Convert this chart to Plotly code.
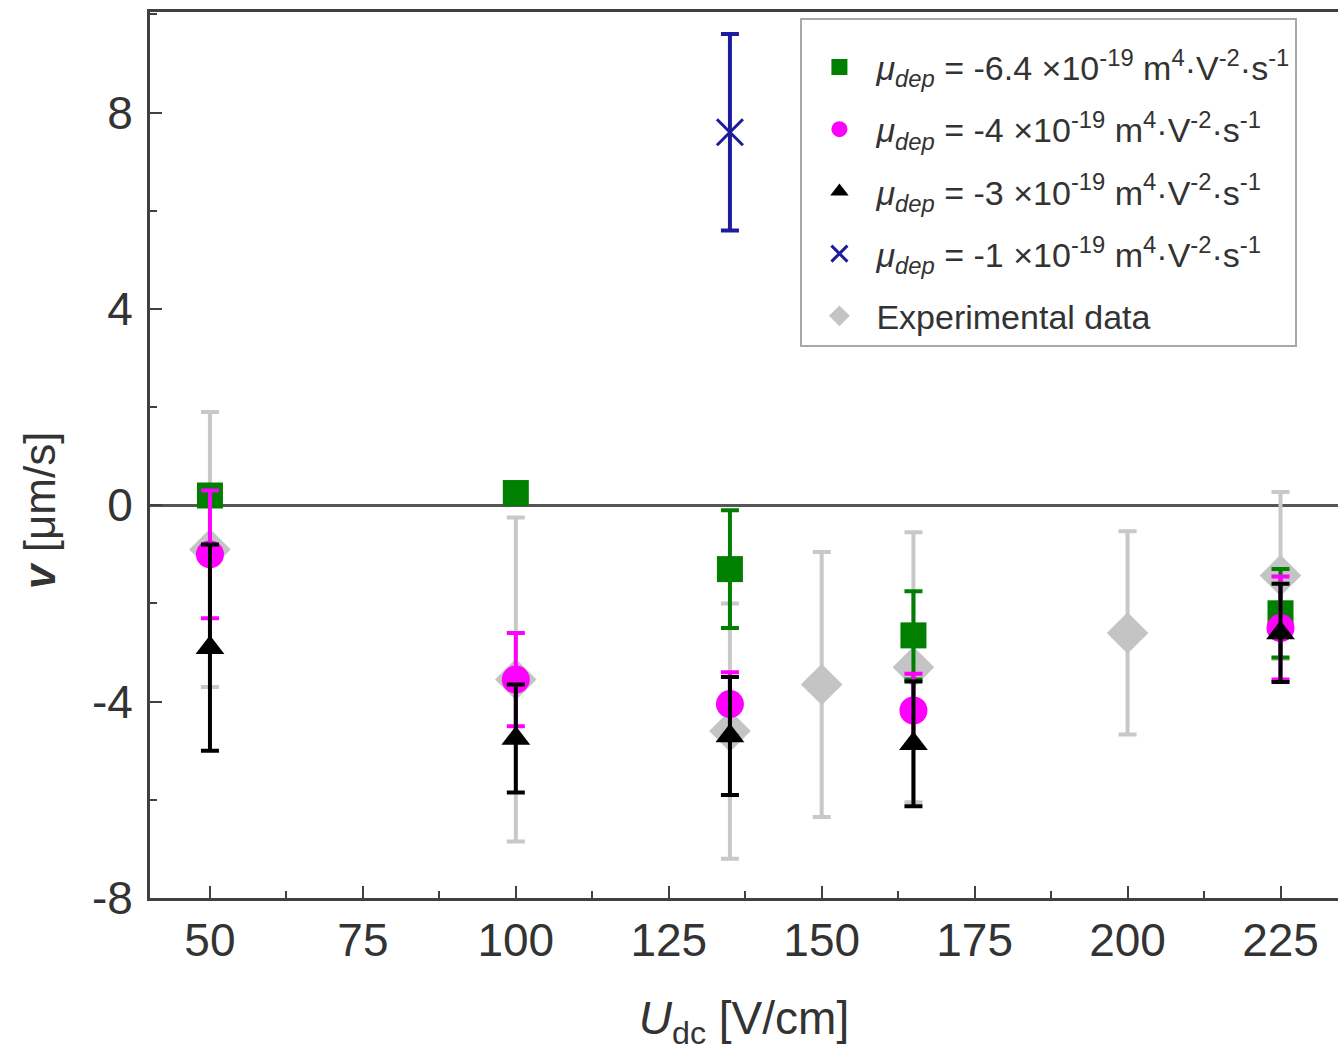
import plotly.graph_objects as go

# ---- data ----
x_green = [50, 100, 135, 165, 225]
y_green = [0.2, 0.25, -1.3, -2.65, -2.2]
e_green = [0.1, 0.1, 1.2, 0.9, 0.9]

x_mag = [50, 100, 135, 165, 225]
y_mag = [-1.0, -3.55, -4.05, -4.18, -2.5]
e_mag = [1.3, 0.95, 0.65, 0.75, 1.05]

x_blk = [50, 100, 135, 165, 225]
y_blk = [-2.9, -4.75, -4.7, -4.86, -2.6]
e_blk = [2.1, 1.1, 1.2, 1.27, 1.0]

x_blue = [135]
y_blue = [7.6]
e_blue = [2.0]

x_exp = [50, 100, 135, 150, 165, 200, 225]
y_exp = [-0.9, -3.55, -4.6, -3.65, -3.3, -2.6, -1.43]
e_exp = [2.8, 3.3, 2.6, 2.7, 2.75, 2.07, 1.7]

x_ticks = [50, 75, 100, 125, 150, 175, 200, 225]
y_ticks = [-8, -4, 0, 4, 8]
y_ticktext = ["-8", "-4", "0", "4", "8"]

names = [
    "<i>μ</i><sub><i>dep</i></sub> = -6.4 ×10<sup>-19</sup> m<sup>4</sup>·V<sup>-2</sup>·s<sup>-1</sup>",
    "<i>μ</i><sub><i>dep</i></sub> = -4 ×10<sup>-19</sup> m<sup>4</sup>·V<sup>-2</sup>·s<sup>-1</sup>",
    "<i>μ</i><sub><i>dep</i></sub> = -3 ×10<sup>-19</sup> m<sup>4</sup>·V<sup>-2</sup>·s<sup>-1</sup>",
    "<i>μ</i><sub><i>dep</i></sub> = -1 ×10<sup>-19</sup> m<sup>4</sup>·V<sup>-2</sup>·s<sup>-1</sup>",
    "Experimental data",
]

FONT = "Liberation Sans, Arial, sans-serif"
TXT = "#333333"

fig = go.Figure()

def eb(arr, color):
    return dict(type="data", array=arr, visible=True, color=color, thickness=4, width=9)

fig.add_trace(go.Scatter(x=x_exp, y=y_exp, mode="markers", name=names[4], legendrank=5, legendgroup="e",
                         marker=dict(symbol="diamond", size=32, color="#c4c4c4"),
                         error_y=eb(e_exp, "#c8c8c8")))
fig.add_trace(go.Scatter(x=x_green, y=y_green, mode="markers", name=names[0], legendrank=1, legendgroup="g",
                         marker=dict(symbol="square", size=26, color="#007f00"),
                         error_y=eb(e_green, "#007f00")))
fig.add_trace(go.Scatter(x=x_mag, y=y_mag, mode="markers", name=names[1], legendrank=2, legendgroup="m",
                         marker=dict(symbol="circle", size=28, color="#ff00ff"),
                         error_y=eb(e_mag, "#ff00ff")))
fig.add_trace(go.Scatter(x=x_blk, y=y_blk, mode="markers", name=names[2], legendrank=3, legendgroup="k",
                         marker=dict(symbol="triangle-up", size=25, color="#000000"),
                         error_y=eb(e_blk, "#000000")))
fig.add_trace(go.Scatter(x=x_blue, y=y_blue, mode="markers", name=names[3], legendrank=4, legendgroup="b",
                         marker=dict(symbol="x-thin", size=26, color="#1c1c9c",
                                     line=dict(width=3, color="#1c1c9c")),
                         error_y=eb(e_blue, "#1c1c9c")))

fig.update_layout(
    width=1338, height=1051,
    margin=dict(l=150, r=0, t=12, b=153),
    paper_bgcolor="white", plot_bgcolor="white",
    font=dict(family=FONT, color=TXT, size=46),
    showlegend=True,
    legend=dict(
        x=0.5475, y=0.993, xanchor="left", yanchor="top",
        bgcolor="white", bordercolor="#a8a8a8", borderwidth=2,
        font=dict(size=34, color=TXT, family=FONT),
        title=dict(text=" ", font=dict(size=14)),
        tracegroupgap=15, itemwidth=64, itemsizing="trace",
    ),
    xaxis=dict(
        range=[40.2, 234.4], showgrid=False, zeroline=False,
        showline=True, linecolor="#404040", linewidth=3, mirror=True,
        ticks="inside", ticklen=12, tickwidth=2, tickcolor="#404040",
        tickmode="array", tickvals=x_ticks,
        minor=dict(ticks="inside", ticklen=7, tickwidth=2, tickcolor="#404040", dtick=12.5, tick0=37.5),
        tickfont=dict(size=46, color=TXT),
        title=dict(text="<i>U</i><sub>dc</sub> [V/cm]", font=dict(size=46, color=TXT), standoff=38),
    ),
    yaxis=dict(
        range=[-8, 10.05], showgrid=False,
        zeroline=True, zerolinecolor="#555555", zerolinewidth=3,
        showline=True, linecolor="#404040", linewidth=3, mirror=False,
        ticks="inside", ticklen=12, tickwidth=2, tickcolor="#404040",
        tickmode="array", tickvals=y_ticks, ticktext=y_ticktext,
        ticklabelstandoff=5,
        minor=dict(ticks="inside", ticklen=7, tickwidth=2, tickcolor="#404040", dtick=2, tick0=0),
        tickfont=dict(size=46, color=TXT),
    ),
    annotations=[dict(
        text="<b><i>v</i></b> [μm/s]", textangle=-90, showarrow=False,
        xref="paper", yref="paper", x=-0.0926, y=0.438, xanchor="center", yanchor="middle",
        font=dict(size=44, color=TXT, family=FONT),
    )],
)

fig.write_html("out.html")
